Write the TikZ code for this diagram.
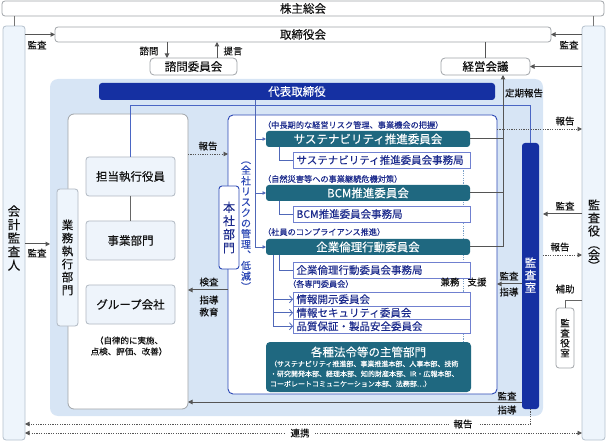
\documentclass[tikz,border=0pt]{standalone}
\usepackage{fontspec}
\setmainfont{Noto Sans CJK JP}[FakeBold=0.12]
\usetikzlibrary{arrows.meta,calc}
\definecolor{panelblue}{HTML}{D7E5F5}
\definecolor{colfill}{HTML}{EEF5FC}
\definecolor{colborder}{HTML}{B4C0CC}
\definecolor{boxborder}{HTML}{A0A4A8}
\definecolor{darkblue}{HTML}{1530A2}
\definecolor{tealc}{HTML}{1F6880}
\definecolor{honshablue}{HTML}{2B47B5}
\definecolor{lineblue}{HTML}{5068B8}
\definecolor{hlineblue}{HTML}{4A66C4}
\definecolor{secborder}{HTML}{7080D0}
\definecolor{navy}{HTML}{1B2A8C}
\definecolor{conn}{HTML}{555555}
\definecolor{dotblue}{HTML}{7AA0C8}
\definecolor{txt}{HTML}{111111}
\definecolor{softfill}{HTML}{EEF4FB}
\definecolor{softborder}{HTML}{B0B8C2}
\begin{document}
\begin{tikzpicture}[x=1pt,y=-1pt,
  every node/.style={inner sep=0pt, outer sep=0pt, text=txt},
  wbox/.style={draw=boxborder, fill=white, rounded corners=3pt, line width=0.8pt},
  colbox/.style={draw=colborder, fill=colfill, rounded corners=3pt, line width=0.8pt},
  softbox/.style={draw=softborder, fill=softfill, rounded corners=3pt, line width=0.8pt, font=\fontsize{11.5}{11.5}\selectfont},
  tealbox/.style={fill=tealc, rounded corners=3pt, text=white, minimum width=204pt, minimum height=16pt, font=\fontsize{11.5}{11.5}\selectfont},
  secbox/.style={draw=secborder, fill=white, line width=0.7pt, text=navy, text width=170pt, align=left, inner xsep=3.5pt, minimum height=16pt, font=\fontsize{10.5}{10.5}\selectfont},
  kbox/.style={draw=secborder, fill=white, line width=0.7pt, text=navy, text width=170pt, align=left, inner xsep=3.5pt, minimum height=13.5pt, font=\fontsize{10.5}{10.5}\selectfont},
  clabel/.style={anchor=west, text=navy, font=\fontsize{8.2}{8.2}\selectfont},
  lbl/.style={font=\fontsize{9.5}{9.5}\selectfont, text=txt},
  arr/.style={draw=conn, line width=1pt, -{Triangle[length=4.5pt,width=4.5pt]}},
  dotarr/.style={draw=conn, line width=0.9pt, dash pattern=on 1.2pt off 1.2pt, -{Triangle[length=4.5pt,width=4.5pt]}},
  gline/.style={draw=conn, line width=1pt},
  bline/.style={draw=lineblue, line width=0.8pt},
  hline/.style={draw=hlineblue, line width=1pt}
]
\useasboundingbox (0,0) rectangle (606,441);
% coordinates
\coordinate (y424) at (0,424);
\coordinate (y433) at (0,433);
\coordinate (y129) at (0,129);
\coordinate (y154) at (0,154);
\coordinate (y214) at (0,214);
\coordinate (y244) at (0,244);
\coordinate (y255) at (0,255);
\coordinate (y284) at (0,284);
\coordinate (y290) at (0,290);
\coordinate (y301) at (0,301);
\coordinate (y402) at (0,402);
\coordinate (hby) at (0,106);
\coordinate (dvx) at (255,0);
\coordinate (kvx) at (273,0);
\coordinate (svx) at (279,0);
\coordinate (rvx) at (503,0);
\coordinate (xa) at (167,0);
\coordinate (xb) at (217,0);

% panel
\node[fill=panelblue, rounded corners=8pt, minimum width=493pt, minimum height=337pt] (panel) at (296.5,247.5) {};

% top boxes
\node[wbox, minimum width=602pt, minimum height=15pt, font=\fontsize{11.5}{11.5}\selectfont] (sh) at (303,8.5) {株主総会};
\node[colbox, minimum width=22pt, minimum height=414pt] (kaikei) at (14,233) {};
\node[align=center, font=\fontsize{12.5}{13.5}\selectfont] (kaikeitxt) at (14,238) {会\\計\\監\\査\\人};
\node[colbox, minimum width=23pt, minimum height=414pt] (kansayaku) at (593.5,233) {};
\node[align=center, font=\fontsize{12}{13}\selectfont] (kansayakutxt) at (594,235) {監\\査\\役\\︵\\[-2pt]会\\[-2pt]︶};
\node[wbox, minimum width=496pt, minimum height=15pt, font=\fontsize{11.5}{11.5}\selectfont] (tori) at (303,34.5) {取締役会};
\node[wbox, minimum width=87pt, minimum height=17pt, rounded corners=4pt, font=\fontsize{11.5}{11.5}\selectfont] (shimon) at (193.5,66.5) {諮問委員会};
\node[wbox, minimum width=89pt, minimum height=17pt, rounded corners=4pt, font=\fontsize{11.5}{11.5}\selectfont] (keiei) at (485.5,66.5) {経営会議};

\draw[gline, draw=conn!80] (kaikei.north) -- (kaikei.north |- sh.south);
\draw[gline, draw=conn!80] (kansayaku.north) -- (kansayaku.north |- sh.south);
\draw[arr] (kaikei.east |- tori) -- (tori.west);
\draw[arr] (kansayaku.west |- tori) -- (tori.east);
\draw[arr] (tori.south -| xa) -- (shimon.north -| xa);
\draw[arr] (shimon.north -| xb) -- (tori.south -| xb);
\draw[gline] (keiei.north) -- (keiei.north |- tori.south);
\draw[arr] (kansayaku.west |- keiei) -- (keiei.east);

% daihyo
\node[fill=darkblue, rounded corners=3pt, minimum width=396pt, minimum height=17pt, text=white, font=\fontsize{11.5}{11.5}\selectfont] (daihyo) at (297,91.5) {代表取締役};

% gyomu
\node[wbox, rounded corners=6pt, minimum width=120pt, minimum height=295pt] (gyomu) at (128,261.5) {};
\node[colbox, draw=softborder, minimum width=21pt, minimum height=137pt, align=center, font=\fontsize{11.5}{13}\selectfont] (gyomulbl) at (67.5,257.5) {業\\務\\執\\行\\部\\門};
\node[softbox, minimum width=89pt, minimum height=39pt] (tanto) at (130.5,176.5) {担当執行役員};
\node[softbox, minimum width=89pt, minimum height=39pt] (jigyo) at (130.5,240.5) {事業部門};
\node[softbox, minimum width=89pt, minimum height=39pt] (group) at (130.5,304.5) {グループ会社};
\node[align=center, font=\fontsize{8.5}{11}\selectfont] (jiritsu) at (129,346) {（自律的に実施、\\点検、評価、改善）};
\draw[gline, draw=conn!90] (tanto.south) -- (jigyo.north);

% honsha region
\node[draw=honshablue, fill=white, line width=0.9pt, rounded corners=5pt, minimum width=269pt, minimum height=279pt] (honsha) at (362.5,254.5) {};
\node[draw=honshablue, fill=white, line width=0.9pt, rounded corners=3pt, minimum width=20pt, minimum height=83pt, align=center, text=navy, font=\fontsize{12}{13.5}\selectfont] (honshalbl) at (229,227.5) {本\\社\\部\\門};
\node[align=center, text=honshablue, font=\fontsize{10}{10.6}\selectfont] (zensha) at (246,226) {︵\\全\\社\\リ\\ス\\ク\\の\\管\\理\\︑\\低\\減\\︶};

% dotted support line
\coordinate (dtop) at (463,168);
\coordinate (dbot) at (463,342);
\draw[draw=dotblue, line width=0.9pt, dash pattern=on 1.2pt off 1.2pt] (dtop) -- (dbot);

% committees
\node[clabel] (c1l) at (263,125) {（中長期的な経営リスク管理、事業機会の把握）};
\node[tealbox] (c1) at (368,139) {サステナビリティ推進委員会};
\node[secbox] (c1s) at (381.5,160) {サステナビリティ推進委員会事務局};
\node[clabel] (c2l) at (263,179) {（自然災害等への事業継続危機対策）};
\node[tealbox] (c2) at (368,193) {BCM推進委員会};
\node[secbox] (c2s) at (381.5,214) {BCM推進委員会事務局};
\node[clabel] (c3l) at (263,232) {（社員のコンプライアンス推進）};
\node[tealbox] (c3) at (368,247) {企業倫理行動委員会};
\node[secbox] (c3s) at (381.5,270) {企業倫理行動委員会事務局};
\node[clabel] (c4l) at (288,284) {（各専門委員会）};
\node[kbox] (k1) at (381.5,299.25) {情報開示委員会};
\node[kbox] (k2) at (381.5,312.75) {情報セキュリティ委員会};
\node[kbox] (k3) at (381.5,326.25) {品質保証・製品安全委員会};
\node[fill=tealc, rounded corners=4pt, minimum width=205pt, minimum height=50pt] (houki) at (368.5,367) {};
\node[text=white, font=\fontsize{11.5}{11.5}\selectfont] (houkititle) at (368.5,352) {各種法令等の主管部門};
\node[anchor=north west, align=left, text=white, font=\fontsize{7}{10}\selectfont] (houkisub) at (270,360.5) {（サステナビリティ推進部、事業推進本部、人事本部、技術\\・研究開発本部、経理本部、知的財産本部、IR・広報本部、\\コーポレートコミュニケーション本部、法務部…）};

% audit office
\node[fill=darkblue, rounded corners=3pt, minimum width=17pt, minimum height=266pt] (kansashitsu) at (530.5,276) {};
\node[align=center, text=white, font=\fontsize{11.5}{12.5}\selectfont] (kansashitsutxt) at (530.5,275) {監\\査\\室};
\node[wbox, minimum width=18pt, minimum height=60pt, align=center, font=\fontsize{9.5}{10}\selectfont] (yakushitsu) at (565,338) {監\\査\\役\\室};

% blue lines from daihyo
\draw[hline] (tanto.north) -- (tanto.north |- hby) -- (kansashitsu.north |- hby) -- (kansashitsu.north);
\draw[bline] (daihyo.south -| dvx) -- (c3.west -| dvx);
\foreach \c in {c1,c2,c3} \draw[bline,-{Triangle[length=3.5pt,width=3.5pt]}] (\c.west -| dvx) -- (\c.west);
\foreach \a/\b in {c1/c1s,c2/c2s,c3/c3s} \draw[bline] (\a.south -| svx) -- (\b.west -| svx) -- (\b.west);
\draw[bline] (c3.south -| kvx) -- (k3.west -| kvx);
\foreach \k in {k1,k2,k3} \draw[bline,-{Straight Barb[length=3pt,width=7pt]}] (\k.west -| kvx) -- (\k.west);

% report lines to keiei
\draw[gline] (c1.east) -- (c1.east -| rvx);
\draw[gline] (c2.east) -- (c2.east -| rvx);
\draw[gline] (c3.east) -- (c3.east -| rvx);
\draw[arr] (c3.east -| rvx) -- (keiei.south -| rvx);

% arrows
\draw[dotarr] (gyomu.east |- y154) -- (honsha.west |- y154);
\draw[arr] (honsha.west |- y290) -- (gyomu.east |- y290);
\draw[arr] (kansashitsu.west |- y284) -- (honsha.east |- y284);
\draw[arr] (kansashitsu.west |- y402) -- (gyomu.east |- y402);
\draw[dotarr] (honsha.east |- y129) -- (kansayaku.west |- y129);
\draw[arr] (kansayaku.west |- y214) -- (panel.east |- y214);
\draw[dotarr] (panel.east |- y255) -- (kansayaku.west |- y255);
\draw[gline, draw=conn!90] (kansayaku.west |- y301) -- (yakushitsu.north |- y301) -- (yakushitsu.north);
\draw[arr] (kaikei.east |- y244) -- (panel.west |- y244);
\draw[dotarr] (kansashitsu.south) -- (kansashitsu.south |- y424) -- (kaikei.east |- y424);
\draw[draw=conn, line width=0.9pt, dash pattern=on 1.2pt off 1.2pt, {Triangle[length=4.5pt,width=4.5pt]}-{Triangle[length=4.5pt,width=4.5pt]}] (kaikei.east |- y433) -- (kansayaku.west |- y433);

% labels
\node[lbl] (l1) at (37,45) {監査};
\node[lbl] (l2) at (569,45) {監査};
\node[lbl] (l3) at (149,51) {諮問};
\node[lbl] (l4) at (233,51) {提言};
\node[lbl] (l5) at (524,93) {定期報告};
\node[lbl] (l6) at (208,146) {報告};
\node[lbl] (l7) at (209,282) {検査};
\node[lbl] (l8) at (209,300) {指導};
\node[lbl] (l9) at (209,312) {教育};
\node[lbl] (l10) at (565,121) {報告};
\node[lbl] (l11) at (565,206) {監査};
\node[lbl] (l12) at (560,247) {報告};
\node[lbl] (l13) at (509,276) {監査};
\node[lbl] (l14) at (509,292) {指導};
\node[lbl] (l15) at (565,289) {補助};
\node[lbl] (l16) at (507,396) {監査};
\node[lbl] (l17) at (507,410) {指導};
\node[lbl] (l18) at (37,253) {監査};
\node[lbl, fill=white, inner xsep=5pt, inner ysep=1pt] (l19) at (463,424) {報告};
\node[lbl, fill=white, inner xsep=5pt, inner ysep=1pt] (l20) at (300,433) {連携};
\node[lbl] (l21) at (450,282) {兼務};
\node[lbl] (l22) at (477,282) {支援};
\end{tikzpicture}
\end{document}
